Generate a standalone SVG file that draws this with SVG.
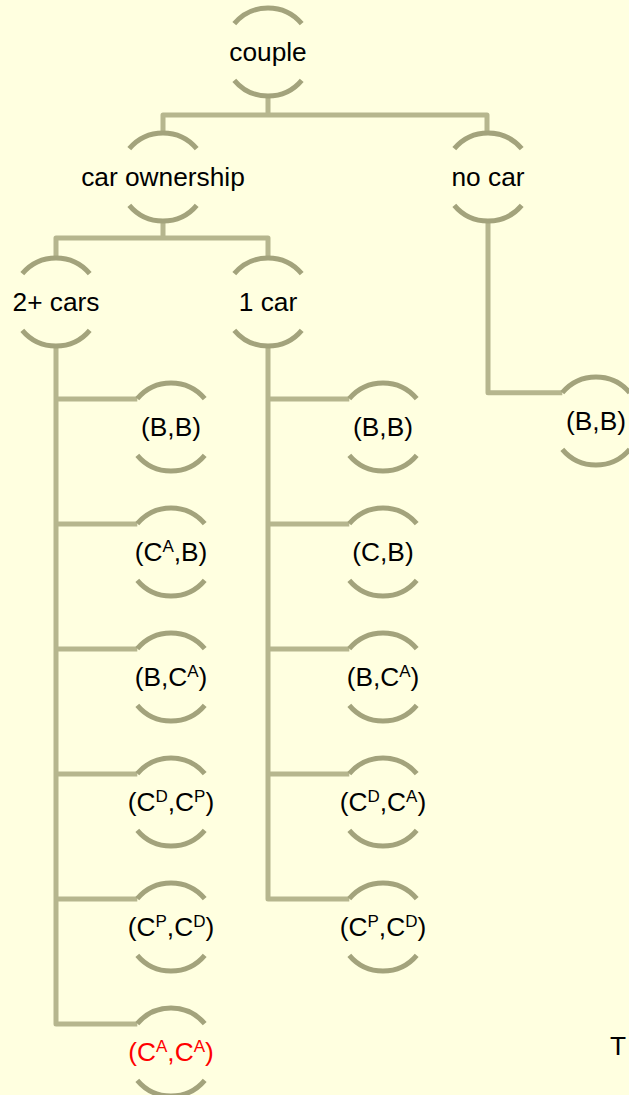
<svg xmlns="http://www.w3.org/2000/svg" width="629" height="1095" viewBox="0 0 629 1095">
<style>
.bg{fill:#FFFFE0}
.arc{fill:none;stroke:#A3A37C;stroke-width:5}
.link{fill:none;stroke:#B6B68E;stroke-width:5;stroke-linejoin:round}
.t{font-family:"Liberation Sans",Arial,sans-serif;font-size:26.3px;fill:#000;text-anchor:middle}
.red{fill:#FF0000}
.sup{font-size:17px}
</style>
<defs>
<path id="node" class="arc" d="M-33.7,-28.3 A44,44 0 0 1 33.7,-28.3 M-33.7,28.3 A44,44 0 0 0 33.7,28.3"/>
</defs>
<rect class="bg" x="0" y="0" width="629" height="1095"/>
<g id="connectors">
<path class="link" d="M268,96 V115 M163,133 V115 H487 V133"/>
<path class="link" d="M163,221 V238 M56,258 V238 H268 V258"/>
<path class="link" d="M56,346 V1024 H137.3 M56,399 H137.3 M56,524 H137.3 M56,649 H137.3 M56,774 H137.3 M56,899 H137.3"/>
<path class="link" d="M268,346 V899 H349.3 M268,399 H349.3 M268,524 H349.3 M268,649 H349.3 M268,774 H349.3"/>
<path class="link" d="M488,221 V392.7 H562.3"/>
</g>
<g id="n-couple"><use href="#node" x="268" y="52"/><text class="t" x="268" y="61">couple</text></g>
<g id="n-carown"><use href="#node" x="163" y="177"/><text class="t" x="163" y="186">car ownership</text></g>
<g id="n-nocar"><use href="#node" x="488" y="177"/><text class="t" x="488" y="186">no car</text></g>
<g id="n-2cars"><use href="#node" x="56" y="302"/><text class="t" x="56" y="311">2+ cars</text></g>
<g id="n-1car"><use href="#node" x="268" y="302"/><text class="t" x="268" y="311">1 car</text></g>
<g id="a1"><use href="#node" x="171" y="427"/><text class="t" x="171" y="436">(B,B)</text></g>
<g id="a2"><use href="#node" x="171" y="552"/><text class="t" x="171" y="561">(C<tspan class="sup" dy="-9">A</tspan><tspan dy="9">,B)</tspan></text></g>
<g id="a3"><use href="#node" x="171" y="677"/><text class="t" x="171" y="686">(B,C<tspan class="sup" dy="-9">A</tspan><tspan dy="9">)</tspan></text></g>
<g id="a4"><use href="#node" x="171" y="802"/><text class="t" x="171" y="811">(C<tspan class="sup" dy="-9">D</tspan><tspan dy="9">,C</tspan><tspan class="sup" dy="-9">P</tspan><tspan dy="9">)</tspan></text></g>
<g id="a5"><use href="#node" x="171" y="927"/><text class="t" x="171" y="936">(C<tspan class="sup" dy="-9">P</tspan><tspan dy="9">,C</tspan><tspan class="sup" dy="-9">D</tspan><tspan dy="9">)</tspan></text></g>
<g id="a6"><use href="#node" x="171" y="1052"/><text class="t red" x="171" y="1061">(C<tspan class="sup" dy="-9">A</tspan><tspan dy="9">,C</tspan><tspan class="sup" dy="-9">A</tspan><tspan dy="9">)</tspan></text></g>
<g id="b1"><use href="#node" x="383" y="427"/><text class="t" x="383" y="436">(B,B)</text></g>
<g id="b2"><use href="#node" x="383" y="552"/><text class="t" x="383" y="561">(C,B)</text></g>
<g id="b3"><use href="#node" x="383" y="677"/><text class="t" x="383" y="686">(B,C<tspan class="sup" dy="-9">A</tspan><tspan dy="9">)</tspan></text></g>
<g id="b4"><use href="#node" x="383" y="802"/><text class="t" x="383" y="811">(C<tspan class="sup" dy="-9">D</tspan><tspan dy="9">,C</tspan><tspan class="sup" dy="-9">A</tspan><tspan dy="9">)</tspan></text></g>
<g id="b5"><use href="#node" x="383" y="927"/><text class="t" x="383" y="936">(C<tspan class="sup" dy="-9">P</tspan><tspan dy="9">,C</tspan><tspan class="sup" dy="-9">D</tspan><tspan dy="9">)</tspan></text></g>
<g id="c1"><use href="#node" x="596" y="421"/><text class="t" x="596" y="430">(B,B)</text></g>
<text class="t" x="626" y="1055" style="text-anchor:end">T</text>
</svg>
